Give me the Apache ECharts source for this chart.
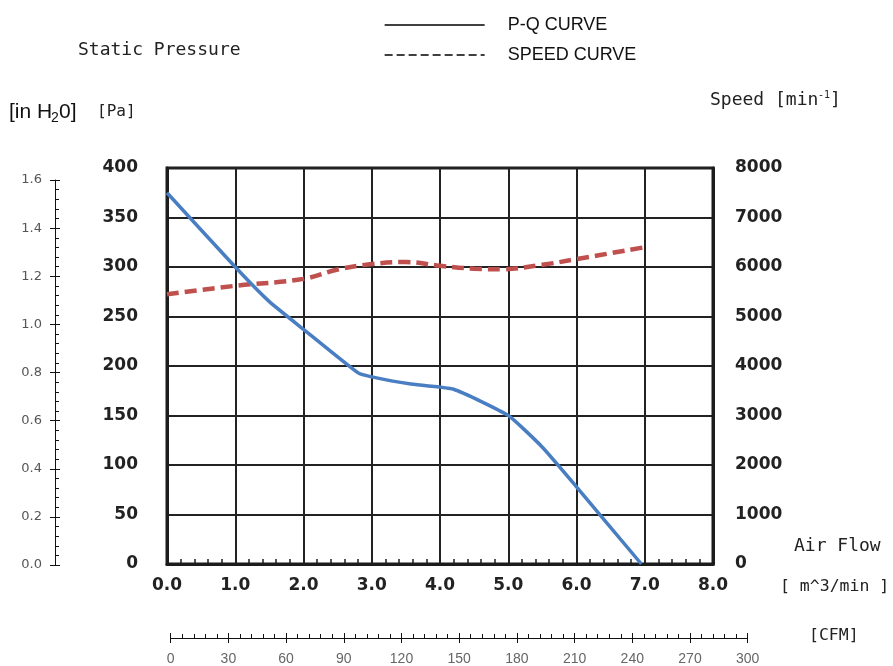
<!DOCTYPE html>
<html>
<head>
<meta charset="utf-8">
<script src="https://cdn.jsdelivr.net/npm/echarts@6/dist/echarts.min.js"></script>
<style>
html,body{margin:0;padding:0;background:#fff;}
#chart{width:893px;height:666px;}
</style>
</head>
<body>
<div id="chart"></div>
<script>
// ---- data ----
const pqFlow  = [0, 1.0, 1.5, 2.0, 2.8, 3.0, 3.55, 4.2, 5.0, 5.5, 6.0, 6.95];   // m^3/min
const pqPa    = [375, 300, 265, 237, 193, 189, 182, 176.5, 150, 118, 78, 0];   // Pa
const spFlow  = [0, 1.0, 2.0, 2.5, 3.0, 3.5, 4.0, 4.5, 4.9, 5.5, 6.0, 7.0];    // m^3/min
const spRpm   = [5450, 5620, 5760, 5950, 6060, 6100, 6025, 5965, 5955, 6045, 6160, 6400]; // min^-1

const flowAxis = {min: 0, max: 8, interval: 1};
const paAxis   = {min: 0, max: 400, interval: 50};
const rpmAxis  = {min: 0, max: 8000, interval: 1000};
const inH2OAxis = {min: 0, max: 1.6, interval: 0.2};
const cfmAxis  = {min: 0, max: 300, interval: 30};

const seriesNames = ['P-Q CURVE', 'SPEED CURVE'];

const chart = echarts.init(document.getElementById('chart'), null, {renderer: 'canvas'});

const dark = '#1c1c1c';
const boldLabel = {fontFamily: 'DejaVu Sans', fontWeight: 'bold', fontSize: 17, color: '#222'};
const mono = 'DejaVu Sans Mono';

const option = {
  animation: false,
  backgroundColor: '#fff',
  legend: {
    data: [
      {name: seriesNames[0]},
      {name: seriesNames[1], lineStyle: {type: [8, 4]}}
    ],
    orient: 'vertical',
    left: 384, top: 16, padding: 0,
    itemWidth: 100, itemHeight: 14, itemGap: 12,
    lineStyle: {color: '#000', width: 1.3},
    itemStyle: {opacity: 0},
    textStyle: {fontFamily: 'Liberation Sans', fontSize: 18, color: '#111', padding: [0, 0, 0, 18]},
    selectedMode: false
  },
  grid: [
    {left: 167, top: 168, width: 546, height: 396, show: true, borderColor: dark, borderWidth: 3, backgroundColor: 'transparent'},
    {left: 55, top: 180, width: 1, height: 385},
    {left: 170.7, top: 602, width: 577, height: 36}
  ],
  xAxis: [
    {
      gridIndex: 0, type: 'value', position: 'bottom', min: flowAxis.min, max: flowAxis.max, interval: flowAxis.interval,
      axisLine: {show: true, lineStyle: {color: dark, width: 3}},
      axisTick: {show: false, inside: true},
      minorTick: {show: true, splitNumber: 5, length: 5, lineStyle: {color: dark, width: 1.5}},
      splitLine: {show: true, lineStyle: {color: '#222', width: 2}},
      axisLabel: Object.assign({margin: 13, formatter: v => v.toFixed(1)}, boldLabel)
    },
    {gridIndex: 1, type: 'value', min: 0, max: 1, show: false},
    {
      gridIndex: 2, type: 'value', position: 'bottom', min: cfmAxis.min, max: cfmAxis.max, interval: cfmAxis.interval,
      axisLine: {show: true, lineStyle: {color: '#111', width: 1}},
      axisTick: {show: true, inside: false, length: 5, lineStyle: {color: '#111', width: 1}},
      splitLine: {show: false},
      axisLabel: {margin: 14, fontFamily: 'Liberation Sans', fontSize: 14, color: '#666'}
    },
    {
      gridIndex: 2, type: 'value', position: 'bottom', min: cfmAxis.min, max: cfmAxis.max, interval: cfmAxis.interval,
      axisLine: {show: false},
      axisTick: {show: true, inside: true, length: 5, lineStyle: {color: '#111', width: 1}},
      minorTick: {show: true, splitNumber: 5, length: 4, lineStyle: {color: '#111', width: 1}},
      splitLine: {show: false},
      axisLabel: {show: false}
    }
  ],
  yAxis: [
    {
      gridIndex: 0, type: 'value', position: 'left', min: paAxis.min, max: paAxis.max, interval: paAxis.interval,
      axisLine: {show: true, lineStyle: {color: dark, width: 3}},
      axisTick: {show: false},
      splitLine: {show: true, lineStyle: {color: '#222', width: 2}},
      axisLabel: Object.assign({margin: 29}, boldLabel)
    },
    {
      gridIndex: 0, type: 'value', position: 'right', min: rpmAxis.min, max: rpmAxis.max, interval: rpmAxis.interval,
      axisLine: {show: true, lineStyle: {color: dark, width: 3}},
      axisTick: {show: false},
      splitLine: {show: false},
      axisLabel: Object.assign({margin: 22, formatter: v => String(v)}, boldLabel)
    },
    {
      gridIndex: 1, type: 'value', position: 'left', min: inH2OAxis.min, max: inH2OAxis.max, interval: inH2OAxis.interval,
      axisLine: {show: true, lineStyle: {color: '#111', width: 1}},
      axisTick: {show: true, inside: false, length: 5, lineStyle: {color: '#111', width: 1}},
      splitLine: {show: false},
      axisLabel: {margin: 13, formatter: v => v.toFixed(1), fontFamily: 'DejaVu Sans', fontSize: 13, color: '#555'}
    },
    {
      gridIndex: 1, type: 'value', position: 'left', min: inH2OAxis.min, max: inH2OAxis.max, interval: inH2OAxis.interval,
      axisLine: {show: false},
      axisTick: {show: true, inside: true, length: 5, lineStyle: {color: '#111', width: 1}},
      minorTick: {show: true, splitNumber: 5, length: 4, lineStyle: {color: '#111', width: 1}},
      splitLine: {show: false},
      axisLabel: {show: false}
    },
    {gridIndex: 2, type: 'value', min: 0, max: 1, show: false}
  ],
  series: [
    {
      name: seriesNames[0], type: 'line', xAxisIndex: 0, yAxisIndex: 0,
      data: pqFlow.map((x, i) => [x, pqPa[i]]),
      symbol: 'none', smooth: 0.15,
      lineStyle: {color: '#4a7ec2', width: 3.5},
      itemStyle: {color: '#4a7ec2'},
      z: 5
    },
    {
      name: seriesNames[1], type: 'line', xAxisIndex: 0, yAxisIndex: 1,
      data: spFlow.map((x, i) => [x, spRpm[i]]),
      symbol: 'none', smooth: 0.4,
      lineStyle: {color: '#c0504d', width: 4.5, type: [12, 6]},
      itemStyle: {color: '#c0504d'},
      z: 4
    }
  ],
  graphic: [
    {type: 'text', left: 78, top: 41, style: {text: 'Static Pressure', font: '18px "' + mono + '"', fill: '#222'}},
    {type: 'text', left: 9, top: 102, style: {text: '[in H', font: '21px "Liberation Sans"', fill: '#111'}},
    {type: 'text', left: 51, top: 111, style: {text: '2', font: '14px "Liberation Sans"', fill: '#111'}},
    {type: 'text', left: 59, top: 102, style: {text: '0]', font: '21px "Liberation Sans"', fill: '#111'}},
    {type: 'text', left: 97, top: 104, style: {text: '[Pa]', font: '16px "' + mono + '"', fill: '#222'}},
    {type: 'text', left: 710, top: 91, style: {text: 'Speed [min', font: '18px "' + mono + '"', fill: '#222'}},
    {type: 'text', left: 818, top: 90, style: {text: '-1', font: '10px "' + mono + '"', fill: '#222'}},
    {type: 'text', left: 830, top: 91, style: {text: ']', font: '18px "' + mono + '"', fill: '#222'}},
    {type: 'text', left: 794, top: 537, style: {text: 'Air Flow', font: '18px "' + mono + '"', fill: '#222'}},
    {type: 'text', left: 780, top: 578, style: {text: '[ m^3/min ]', font: '16.5px "' + mono + '"', fill: '#222'}},
    {type: 'text', left: 809, top: 627, style: {text: '[CFM]', font: '16.5px "' + mono + '"', fill: '#222'}}
  ]
};

chart.setOption(option);
</script>
</body>
</html>
